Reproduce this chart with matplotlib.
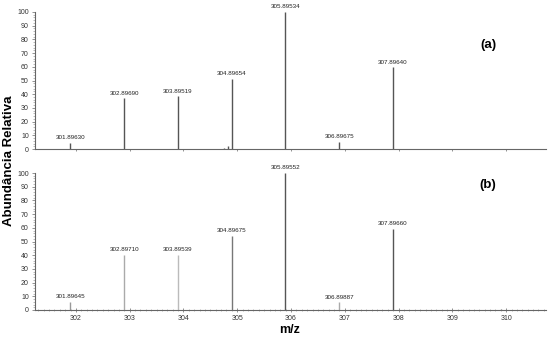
import matplotlib
matplotlib.use("Agg")
import matplotlib.pyplot as plt
from matplotlib.ticker import MultipleLocator

plt.rcParams["font.family"] = ["Liberation Sans", "DejaVu Sans"]

# Data
mz_a = [301.89630, 302.89690, 303.89519, 304.75, 304.82, 304.89654, 305.89534, 306.89675, 307.89640]
ab_a = [4.5, 37, 38.5, 1.0, 2.0, 51, 100, 5, 59.5]
lab_a = ["301.89630", "302.89690", "303.89519", None, None, "304.89654", "305.89534", "306.89675", "307.89640"]

mz_b = [301.89645, 302.89710, 303.89539, 304.89675, 305.89552, 306.89887, 307.89660, 309.90]
ab_b = [6, 40, 40.5, 54, 100, 5.5, 59, 0.6]
lab_b = ["301.89645", "302.89710", "303.89539", "304.89675", "305.89552", "306.89887", "307.89660", None]
col_b = ["#999999", "#aaaaaa", "#bbbbbb", "#777777", "#555555", "#aaaaaa", "#555555", "#888888"]

xlim = (301.24, 310.74)

fig = plt.figure(figsize=(5.5, 3.39), dpi=100)
W, H = 550, 339
ax_a = fig.add_axes([35 / W, 1 - 149 / H, (546 - 35) / W, (149 - 12) / H])
ax_b = fig.add_axes([35 / W, 1 - 310 / H, (546 - 35) / W, (310 - 173) / H])

def style(ax, show_xlabels):
    ax.set_xlim(*xlim)
    ax.set_ylim(0, 100)
    for s in ["top", "right"]:
        ax.spines[s].set_visible(False)
    for s in ["left", "bottom"]:
        ax.spines[s].set_color("#666666")
        ax.spines[s].set_linewidth(0.8)
    ax.yaxis.set_major_locator(MultipleLocator(10))
    ax.yaxis.set_minor_locator(MultipleLocator(2))
    ax.xaxis.set_major_locator(MultipleLocator(1))
    ax.tick_params(axis="both", which="major", labelsize=5, length=2.5, width=0.5,
                   color="#666666", labelcolor="#333333", pad=2)
    ax.tick_params(axis="both", which="minor", length=1.5, width=0.4, color="#888888")
    if show_xlabels:
        ax.xaxis.set_minor_locator(MultipleLocator(0.1))
        ax.tick_params(axis="x", which="both", direction="inout")
    else:
        ax.tick_params(axis="x", labelbottom=False, length=1.5)

style(ax_a, False)
style(ax_b, True)

ax_a.vlines(mz_a, 0, ab_a, color="#555555", linewidth=1.0)
for x, y, t in zip(mz_a, ab_a, lab_a):
    if t:
        ax_a.text(x, y + 2, t, ha="center", va="bottom", fontsize=4.5, color="#222222")

ax_b.vlines(mz_b, 0, ab_b, colors=col_b, linewidth=1.0)
for x, y, t in zip(mz_b, ab_b, lab_b):
    if t:
        ax_b.text(x, y + 2, t, ha="center", va="bottom", fontsize=4.5, color="#222222")

ax_a.text(488 / W, 1 - 45 / H, "(a)", transform=fig.transFigure, fontsize=9.5,
          fontweight="bold", ha="center", va="center")
ax_b.text(488 / W, 1 - 185 / H, "(b)", transform=fig.transFigure, fontsize=9.5,
          fontweight="bold", ha="center", va="center")

fig.text(9 / W, 1 - 161 / H, "Abundância Relativa", rotation=90, fontsize=9.5,
         fontweight="bold", ha="center", va="center")
fig.text(290 / W, 1 - 330 / H, "m/z", fontsize=9, fontweight="bold",
         ha="center", va="center")

fig.savefig("out.png", dpi=100)
